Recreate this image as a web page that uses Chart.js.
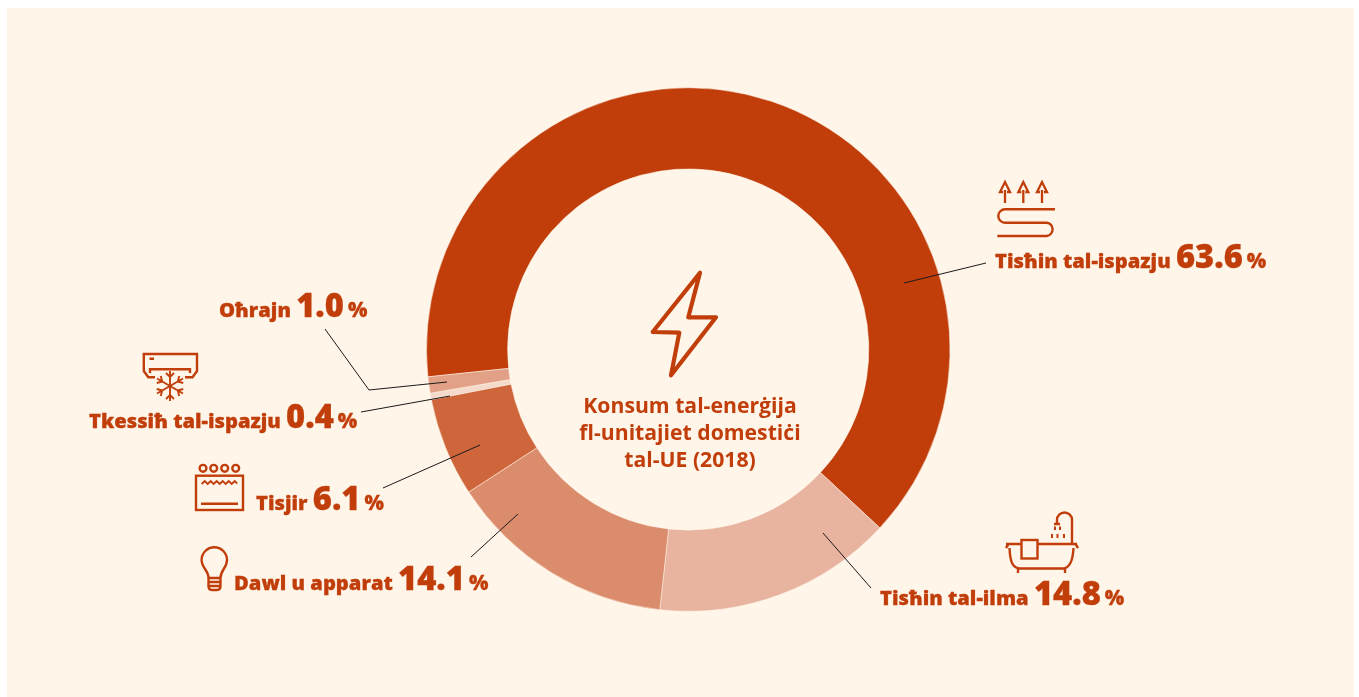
<!DOCTYPE html>
<html>
<head>
<meta charset="utf-8">
<script src="https://cdn.jsdelivr.net/npm/chart.js@4"></script>
<style>
html,body{margin:0;padding:0;background:#fff;width:1359px;height:697px;overflow:hidden}
#panel{position:absolute;left:7px;top:8px;width:1347px;height:689px;background:#fff5e9}
#c{position:absolute;left:0;top:0}
#ov{position:absolute;left:0;top:0}
#ov text{font-family:"Open Sans",sans-serif;fill:#c13e0a}
</style>
</head>
<body>
<div id="panel"></div>
<canvas id="c" width="1359" height="697"></canvas>
<svg id="ov" width="1359" height="697" viewBox="0 0 1359 697" xmlns="http://www.w3.org/2000/svg"></svg>
<script>
const categories = ["Tisħin tal-ispazju","Tisħin tal-ilma","Dawl u apparat","Tisjir","Tkessiħ tal-ispazju","Oħrajn"];
const values = [63.6,14.8,14.1,6.1,0.4,1.0];
const sliceColors = ["#c13e0a","#e8b39f","#db8c6c","#cf653b","#f5d9cb","#e2a187"];
const centerTitle = ["Konsum tal-enerġija","fl-unitajiet domestiċi","tal-UE (2018)"];

new Chart(document.getElementById('c'),{
  type:'doughnut',
  data:{labels:categories,datasets:[{data:values,backgroundColor:sliceColors,borderWidth:0.5,borderColor:'#fff5e9'}]},
  options:{
    responsive:false,animation:false,cutout:'69%',rotation:-96,
    layout:{padding:{left:426,right:408.5,top:87.5,bottom:85.5}},
    plugins:{legend:{display:false},tooltip:{enabled:false}}
  }
});

const NS='http://www.w3.org/2000/svg', ov=document.getElementById('ov'), INK='#c13e0a';
function el(tag,attrs,parent){const e=document.createElementNS(NS,tag);for(const k in attrs)e.setAttribute(k,attrs[k]);(parent||ov).appendChild(e);return e;}
// value labels: text anchor per category index
const labelAnchors=[[995,268],[880,605],[234,590],[256,510],[89,428],[219,317]];
categories.forEach((name,i)=>{
  const t=el('text',{x:labelAnchors[i][0],y:labelAnchors[i][1],stroke:INK,'stroke-width':0.3});
  const a=el('tspan',{'font-size':20.2,'font-weight':800},t);a.textContent=name+' ';
  const b=el('tspan',{'font-size':32.7,'font-weight':800},t);b.textContent=values[i].toFixed(1);
  const c=el('tspan',{'font-size':20.5,'font-weight':800,dx:4},t);c.textContent='%';
});
centerTitle.forEach((s,i)=>{
  const t=el('text',{x:690,y:413+27*i,'text-anchor':'middle','font-size':21.2,'font-weight':700});t.textContent=s;
});
// leader lines
["904,283 986,263","823,533 871,588","518,514 471,557","480,445 383,488","450,396 361,412","325,329 369,390 447,382"].forEach(p=>{
  el('polyline',{points:p,fill:'none',stroke:'#1a1a1a','stroke-width':1});
});
// icons
const ic=el('g',{fill:'none',stroke:INK,'stroke-width':2.4});
// bolt
el('path',{d:'M700 272.7L688.3 317.3H716L671 375.3L679.3 332.7L652.7 332Z','stroke-width':4.2,'stroke-linejoin':'round'},ic);
// heating
[1005,1023.3,1042].forEach(x=>{
  el('path',{d:`M${x} 203V190M${x-2} 192H${x-5}L${x} 182L${x+5} 192H${x+2}`,'stroke-width':2.3},ic);
});
el('path',{d:'M1055 209.3H1005A6.7 6.7 0 0 0 1005 222.7H1046.7A6.7 6.7 0 0 1 1046.7 236H997.3'},ic);
// bath
el('path',{d:'M1006 544H1077M1008.5 544L1006 548M1075.5 544L1078 548M1009.5 548C1010 558 1011 568 1020 568.5H1063C1071 568 1073 558 1073.5 548M1018 568.5V573M1065 568.5V573'},ic);
el('rect',{x:1021.5,y:540,width:16,height:18.5,fill:'#fff5e9'},ic);
el('path',{d:'M1072 544V520A7.5 7.5 0 0 0 1057 520V523M1054 524H1060'},ic);
el('path',{d:'M1055 526.5V530M1060 526.5V530M1052 534V538M1057.5 534V538M1064 534V538','stroke-width':2},ic);
// oven
el('rect',{x:196,y:475.7,width:47,height:34.3},ic);
[203,213.7,224.7,235.7].forEach(x=>el('circle',{cx:x,cy:468.3,r:3.4},ic));
el('path',{d:'M201.7 484l3-3 3 3 3-3 3 3 3-3 3 3 3-3 3 3 3-3 3 3 3-3 2.5 2.5','stroke-width':1.8},ic);
el('path',{d:'M201 503.7H238'},ic);
// bulb
el('path',{d:'M208.5 578C208.5 570 201.6 568 201.6 560A12.7 12.7 0 0 1 227 560C227 568 220.5 570 220.5 578ZM208.5 578V586Q208.5 590 212 590H217Q220.5 590 220.5 586V578M208 582H221M208 586H221'},ic);
// air conditioner
el('path',{d:'M155 377.3H148.3L143.8 371V354H197V371L192.5 377.3H185M150 373V369.3H190V373M149.5 358.7H154'},ic);
const snow=el('g',{transform:'translate(170 386)','stroke-width':1.9},ic);
[0,60,120].forEach(a=>{
  el('path',{d:'M0 -15V15M-4 -13L0 -9L4 -13M-4 13L0 9L4 13',transform:`rotate(${a})`},snow);
});
</script>
</body>
</html>
